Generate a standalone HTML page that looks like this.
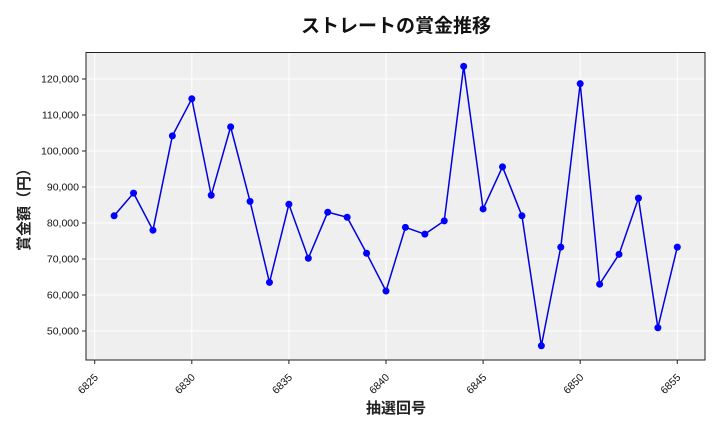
<!DOCTYPE html>
<html><head><meta charset="utf-8"><style>
body{margin:0;background:#fff;}
svg text{font-family:"Liberation Sans","Noto Sans CJK JP",sans-serif;}
</style></head><body>
<svg id="s" width="720" height="432" xmlns="http://www.w3.org/2000/svg">
<rect x="0" y="0" width="720" height="432" fill="#fff"/>
<rect x="86" y="52.5" width="619" height="307.5" fill="#efefef"/>
<g id="g"></g>
<rect x="86" y="52.5" width="619" height="307.5" fill="none" stroke="#222" stroke-width="1"/>
<text x="396" y="32" text-anchor="middle" font-size="19" font-weight="bold" fill="#111">ストレートの賞金推移</text>
<text x="396" y="413" text-anchor="middle" font-size="15" font-weight="bold" fill="#222">抽選回号</text>
<text transform="translate(29,206) rotate(-90)" text-anchor="middle" font-size="15" font-weight="bold" fill="#222">賞金額（円）</text>
</svg>
<script>
const g=document.getElementById('g');let h='';
const X=n=>94.7+(n-6825)*19.42, Y=v=>79+(120000-v)*0.0036;
for(let n=6825;n<=6855;n+=5){const x=X(n);h+=`<line x1="${x}" y1="52.5" x2="${x}" y2="360" stroke="#fff" stroke-width="1"/><line x1="${x}" y1="360" x2="${x}" y2="364" stroke="#222"/><text transform="translate(${x+4},378) rotate(-45)" text-anchor="end" font-size="10.5" fill="#111">${n}</text>`;}
for(let v=50000;v<=120000;v+=10000){const y=Y(v);h+=`<line x1="86" y1="${y}" x2="705" y2="${y}" stroke="#fff" stroke-width="1"/><line x1="82" y1="${y}" x2="86" y2="${y}" stroke="#222"/><text x="79" y="${y+3.5}" text-anchor="end" font-size="10.5" fill="#111">${v.toLocaleString('en-US')}</text>`;}
const d=[82000,88300,78000,104200,114500,87700,106700,86000,63500,85200,70200,83000,81600,71600,61100,78800,76900,80600,123500,83900,95600,82000,45900,73300,118700,63000,71300,86900,50900,73300];
const p=d.map((v,i)=>[X(6826+i),Y(v)]);
h+=`<polyline points="${p.map(q=>q.join(',')).join(' ')}" fill="none" stroke="#0000e0" stroke-width="1.5"/>`;
p.forEach(q=>h+=`<circle cx="${q[0]}" cy="${q[1]}" r="3.5" fill="#0000ff"/>`);
g.innerHTML=h;
</script>
</body></html>
